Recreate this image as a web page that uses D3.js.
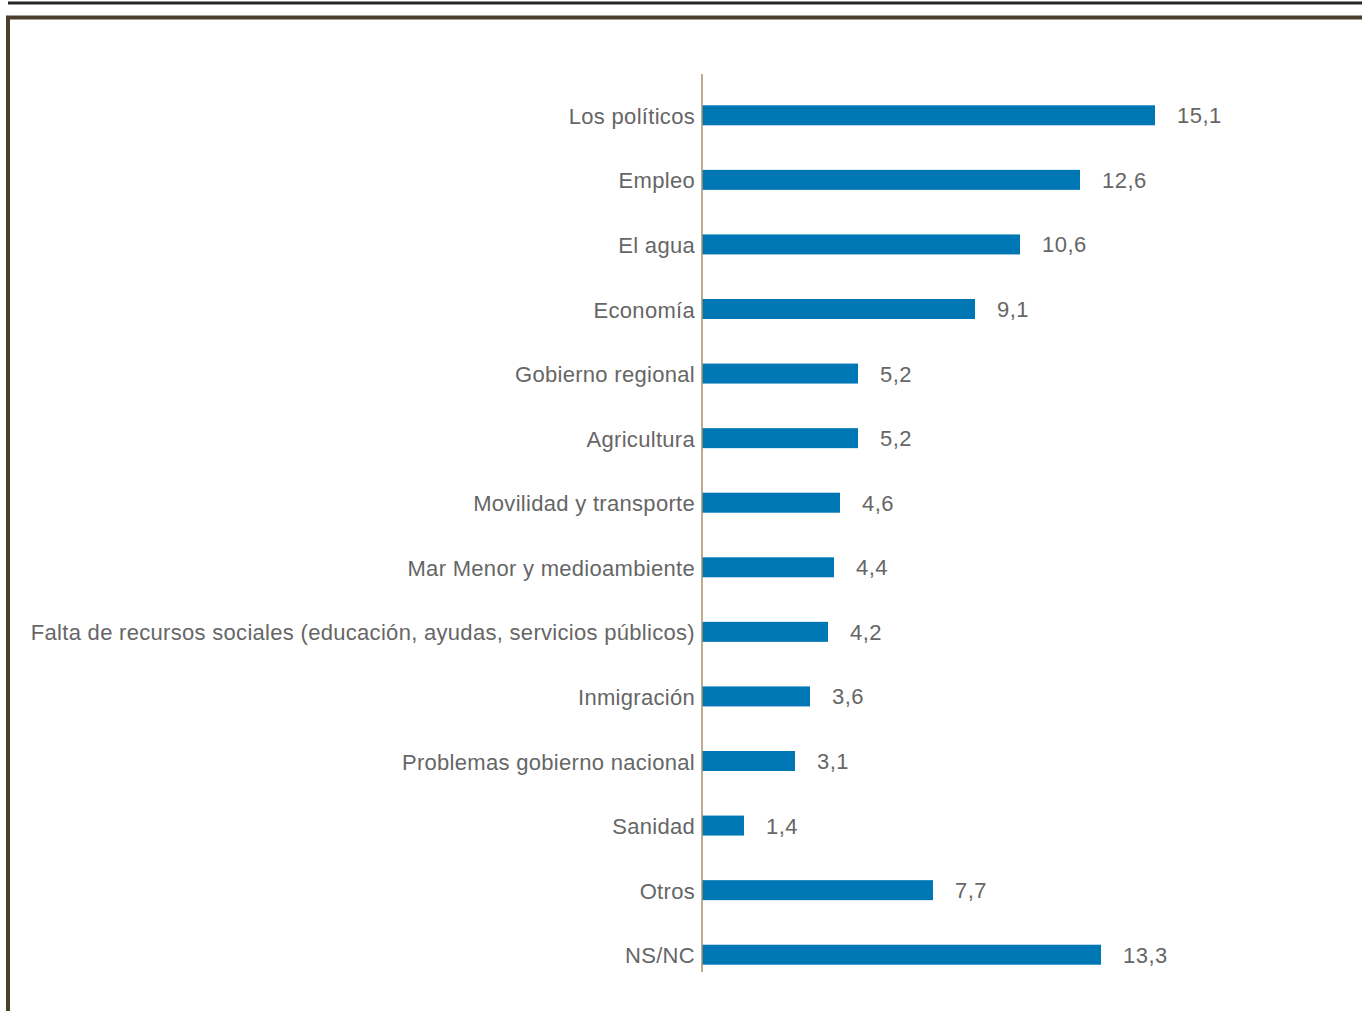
<!DOCTYPE html>
<html><head><meta charset="utf-8">
<script src="https://cdn.jsdelivr.net/npm/d3@7"></script>
<style>html,body{margin:0;padding:0;background:#fff;}svg{display:block;}</style>
</head><body>
<svg id="c" width="1362" height="1011"></svg>
<script>
const categories = ["Los políticos","Empleo","El agua","Economía","Gobierno regional","Agricultura","Movilidad y transporte","Mar Menor y medioambiente","Falta de recursos sociales (educación, ayudas, servicios públicos)","Inmigración","Problemas gobierno nacional","Sanidad","Otros","NS/NC"];
const values = [15.1,12.6,10.6,9.1,5.2,5.2,4.6,4.4,4.2,3.6,3.1,1.4,7.7,13.3];
const valueLabels = ["15,1","12,6","10,6","9,1","5,2","5,2","4,6","4,4","4,2","3,6","3,1","1,4","7,7","13,3"];

const svg = d3.select("#c");
const x0 = 702;
const x = d3.scaleLinear().domain([0, 15.1]).range([x0, 1155]);
const y = d3.scaleBand().domain(categories).range([83, 987]).paddingInner(0.69).paddingOuter(0.345);

// frame
svg.append("line").attr("x1",8).attr("x2",1362).attr("y1",3).attr("y2",3).attr("stroke","#25252a").attr("stroke-width",3);
svg.append("path").attr("d","M8,1011 V17.5 H1362").attr("fill","none").attr("stroke","#4b3f2b").attr("stroke-width",4);

const font = "'Liberation Sans', Arial, sans-serif";
svg.append("g").selectAll("rect").data(categories).join("rect")
  .attr("x", x0).attr("y", d => y(d) + y.bandwidth()/2 - 10)
  .attr("width", (d,i) => x(values[i]) - x0).attr("height", 20)
  .attr("fill", "#0077b5");

svg.append("line").attr("x1",x0).attr("x2",x0).attr("y1",74).attr("y2",972).attr("stroke","#a89068").attr("stroke-width",1.5);

svg.append("g").selectAll("text").data(categories).join("text")
  .attr("x", 695).attr("y", d => y(d) + y.bandwidth()/2 + 8.5)
  .attr("text-anchor","end")
  .attr("font-family", font).attr("font-size", 22).attr("letter-spacing", 0.3)
  .attr("fill","#666").text(d => d);

svg.append("g").selectAll("text").data(categories).join("text")
  .attr("x", (d,i) => x(values[i]) + 22).attr("y", d => y(d) + y.bandwidth()/2 + 8)
  .attr("font-family", font).attr("font-size", 22).attr("letter-spacing", 0.5)
  .attr("fill","#666").text((d,i) => valueLabels[i]);
</script>
</body></html>
